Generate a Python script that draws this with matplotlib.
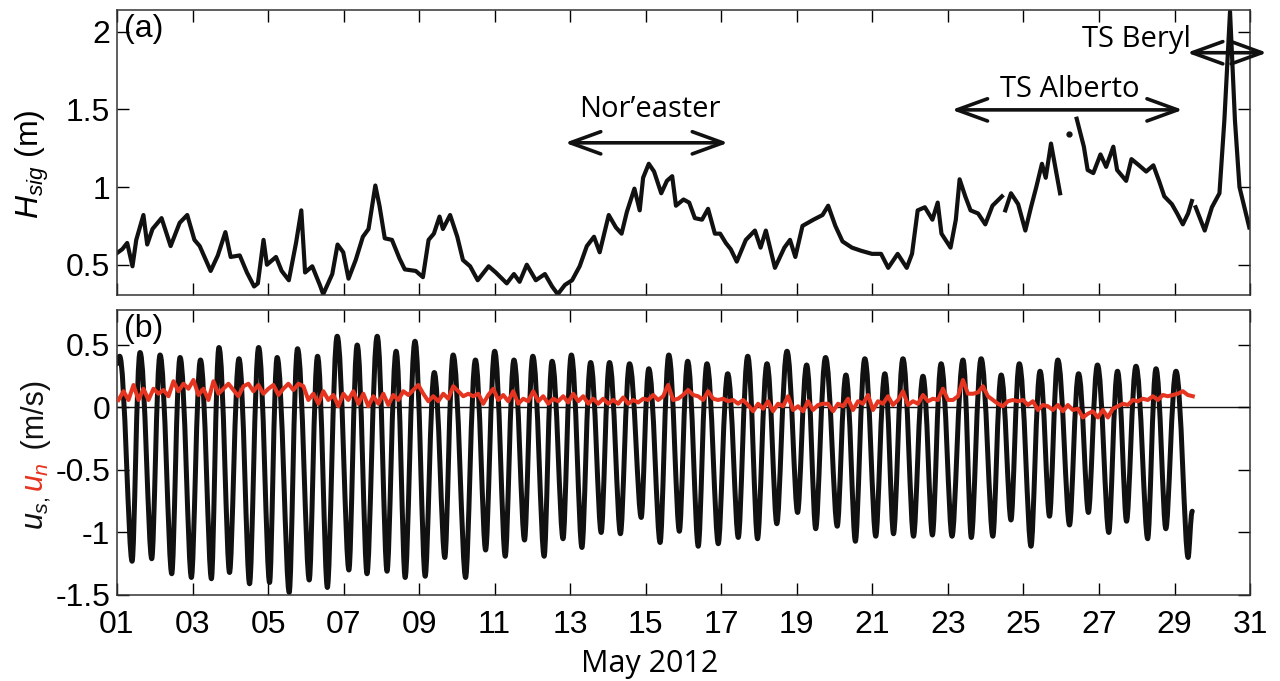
import matplotlib
matplotlib.use("Agg")
import matplotlib.pyplot as plt
from matplotlib.path import Path
from matplotlib.patches import PathPatch
import numpy as np

########
# Data #
########

# significant wave height; nan marks gaps in the record
hsig_day = [1.00, 1.14, 1.27, 1.41, 1.51, 1.70, 1.80, 1.94, 2.18, 2.42,
            2.66, 2.86, 3.05, 3.19, 3.48, 3.67, 3.87, 4.01, 4.25, 4.44,
            4.63, 4.73, 4.88, 4.97, 5.21, 5.36, 5.55, 5.74, 5.88, 5.98,
            6.17, 6.37, 6.46, 6.70, 6.84, 6.99, 7.13, 7.32, 7.51, 7.66,
            7.84, 7.95, 8.09, 8.28, 8.48, 8.62, 8.91, 9.10, 9.25, 9.39,
            9.54, 9.63, 9.82, 10.01, 10.16, 10.35, 10.55, 10.84, 11.03, 11.32,
            11.51, 11.66, 11.85, 12.09, 12.33, 12.52, 12.67, 12.86, 13.05, 13.25,
            13.44, 13.63, 13.78, 14.02, 14.21, 14.36, 14.50, 14.70, 14.84, 14.93,
            15.08, 15.22, 15.41, 15.56, 15.70, 15.80, 16.00, 16.15, 16.30, 16.49,
            16.65, 16.83, 16.97, 17.12, 17.25, 17.41, 17.65, 17.89, 18.04, 18.18,
            18.42, 18.67, 18.82, 18.96, 19.15, 19.44, 19.68, 19.83, 20.02, 20.21,
            20.46, 20.70, 20.99, 21.23, 21.42, 21.67, 21.91, 22.05, 22.20, 22.39,
            22.59, 22.73, 22.83, 23.07, 23.21, 23.31, 23.46, 23.60, 23.80, 23.99,
            24.18, 24.43, 24.47, 24.52, 24.67, 24.86, 25.05, 25.20, 25.34, 25.49,
            25.59, 25.73, 25.97, 26.10, 26.20, 26.30, 26.41, 26.60, 26.70, 26.85,
            27.04, 27.19, 27.38, 27.48, 27.72, 27.86, 28.06, 28.25, 28.44, 28.59,
            28.73, 28.93, 29.07, 29.22, 29.36, 29.46, 29.51, 29.56, 29.80, 29.99,
            30.19, 30.32, 30.47, 30.60, 30.72, 30.98]
hsig_m = [0.575, 0.60, 0.64, 0.49, 0.66, 0.82, 0.63, 0.73, 0.80, 0.62,
          0.77, 0.82, 0.66, 0.62, 0.46, 0.56, 0.71, 0.55, 0.56, 0.45,
          0.36, 0.38, 0.66, 0.50, 0.55, 0.46, 0.40, 0.64, 0.85, 0.45,
          0.49, 0.37, 0.31, 0.44, 0.63, 0.58, 0.41, 0.53, 0.68, 0.73,
          1.01, 0.88, 0.67, 0.66, 0.54, 0.47, 0.46, 0.42, 0.66, 0.70,
          0.81, 0.73, 0.82, 0.68, 0.53, 0.49, 0.40, 0.49, 0.45, 0.38,
          0.44, 0.39, 0.50, 0.40, 0.44, 0.36, 0.31, 0.37, 0.40, 0.49,
          0.62, 0.68, 0.58, 0.82, 0.74, 0.70, 0.84, 0.99, 0.85, 1.06,
          1.15, 1.10, 0.96, 1.04, 1.07, 0.88, 0.92, 0.90, 0.80, 0.79,
          0.86, 0.70, 0.70, 0.64, 0.60, 0.52, 0.66, 0.72, 0.61, 0.72,
          0.48, 0.61, 0.66, 0.55, 0.75, 0.79, 0.82, 0.88, 0.75, 0.65,
          0.61, 0.59, 0.57, 0.57, 0.48, 0.57, 0.48, 0.57, 0.85, 0.87,
          0.79, 0.90, 0.70, 0.61, 0.79, 1.05, 0.94, 0.85, 0.83, 0.76,
          0.88, 0.94, np.nan, 0.85, 0.96, 0.89, 0.72, 0.87, 1.00, 1.15,
          1.06, 1.28, 0.96, np.nan, 1.34, np.nan, 1.44, 1.26, 1.11, 1.09,
          1.21, 1.13, 1.26, 1.11, 1.04, 1.18, 1.14, 1.10, 1.14, 1.04,
          0.94, 0.89, 0.83, 0.76, 0.83, 0.91, np.nan, 0.87, 0.72, 0.87,
          0.96, 1.43, 2.13, 1.43, 1.00, 0.74]

# alongshore velocity: successive flood/ebb extremes
us_day = [1.00, 1.07, 1.40, 1.61, 1.92, 2.14, 2.45, 2.67, 2.97, 3.21,
          3.50, 3.70, 3.98, 4.23, 4.51, 4.75, 5.04, 5.24, 5.56, 5.78,
          6.09, 6.31, 6.57, 6.83, 7.14, 7.36, 7.62, 7.89, 8.15, 8.39,
          8.63, 8.89, 9.16, 9.40, 9.68, 9.90, 10.23, 10.49, 10.76, 11.00,
          11.28, 11.51, 11.79, 12.01, 12.31, 12.52, 12.81, 13.03, 13.31, 13.54,
          13.82, 14.04, 14.33, 14.57, 14.88, 15.08, 15.38, 15.61, 15.89, 16.11,
          16.39, 16.62, 16.92, 17.17, 17.45, 17.70, 17.96, 18.21, 18.47, 18.74,
          19.02, 19.26, 19.50, 19.76, 20.07, 20.30, 20.55, 20.80, 21.09, 21.33,
          21.56, 21.81, 22.09, 22.34, 22.59, 22.82, 23.11, 23.40, 23.62, 23.88,
          24.19, 24.41, 24.67, 24.89, 25.20, 25.44, 25.69, 25.91, 26.22, 26.46,
          26.72, 26.96, 27.26, 27.49, 27.73, 27.98, 28.29, 28.51, 28.77, 29.04,
          29.36, 29.47]
us_ms = [0.35, 0.41, -1.23, 0.44, -1.21, 0.42, -1.33, 0.40, -1.36, 0.38,
         -1.37, 0.48, -1.32, 0.39, -1.41, 0.48, -1.40, 0.40, -1.48, 0.47,
         -1.38, 0.41, -1.44, 0.57, -1.30, 0.50, -1.33, 0.57, -1.31, 0.45,
         -1.36, 0.53, -1.35, 0.28, -1.20, 0.42, -1.36, 0.38, -1.14, 0.45,
         -1.19, 0.38, -1.06, 0.41, -1.19, 0.37, -1.05, 0.42, -1.12, 0.36,
         -1.00, 0.36, -1.01, 0.35, -0.88, 0.31, -1.08, 0.42, -0.99, 0.37,
         -1.11, 0.35, -1.09, 0.27, -1.04, 0.41, -1.05, 0.35, -0.93, 0.45,
         -0.84, 0.34, -0.97, 0.40, -0.95, 0.26, -1.07, 0.39, -1.03, 0.27,
         -1.01, 0.39, -1.03, 0.25, -1.02, 0.35, -1.03, 0.38, -1.04, 0.39,
         -1.03, 0.26, -0.90, 0.35, -1.11, 0.29, -0.87, 0.38, -0.94, 0.27,
         -0.84, 0.34, -1.00, 0.29, -0.91, 0.33, -1.05, 0.31, -0.97, 0.29,
         -1.20, -0.83]

# cross-shore velocity, sampled every un_step days from un_start
un_start = 1.04
un_step = 0.1323
un_ms = [0.06, 0.13, 0.06, 0.18, 0.06, 0.15, 0.06, 0.15, 0.11, 0.14,
         0.09, 0.21, 0.13, 0.19, 0.15, 0.22, 0.10, 0.15, 0.06, 0.21,
         0.11, 0.15, 0.19, 0.14, 0.09, 0.17, 0.19, 0.13, 0.18, 0.11,
         0.15, 0.18, 0.10, 0.15, 0.19, 0.14, 0.19, 0.17, 0.06, 0.11,
         0.03, 0.13, 0.06, 0.10, 0.01, 0.11, 0.06, 0.13, 0.03, 0.11,
         0.01, 0.09, 0.03, 0.11, 0.02, 0.10, 0.06, 0.13, 0.10, 0.14,
         0.18, 0.11, 0.05, 0.09, 0.05, 0.11, 0.07, 0.17, 0.13, 0.09,
         0.11, 0.09,
         0.11, 0.03, 0.10, 0.15, 0.06, 0.10, 0.05, 0.13, 0.03, 0.07,
         0.05, 0.13, 0.05, 0.09, 0.03, 0.07, 0.05, 0.09, 0.04, 0.11,
         0.05, 0.09, 0.03, 0.07, 0.03, 0.07, 0.03, 0.06, 0.03, 0.08,
         0.03, 0.06, 0.04, 0.07, 0.06, 0.10, 0.06, 0.09, 0.18, 0.06,
         0.07, 0.10, 0.14, 0.10, 0.09, 0.06, 0.13, 0.07, 0.06, 0.07,
         0.05, 0.06, 0.03, 0.06, 0.02, -0.03, 0.03, -0.01, 0.05, -0.03,
         0.03, 0.01, 0.09, -0.02, 0.01, -0.03, 0.05, -0.02, 0.02, 0.03,
         0.03, -0.03, 0.03, 0.01, 0.07, -0.02, 0.05, 0.03, 0.10, -0.02,
         0.05, 0.03, 0.09, 0.02, 0.06, 0.13, 0.02, 0.05, 0.03, 0.10,
         0.05, 0.07, 0.06, 0.15, 0.06, 0.06, 0.09, 0.22, 0.11, 0.11,
         0.12, 0.17, 0.09, 0.06, 0.03, 0.01, 0.05, 0.06, 0.05, 0.06,
         0.02, 0.05, -0.02, 0.02, 0.01, -0.02, 0.02, -0.03, 0.02, -0.02,
         -0.01, -0.08, -0.05, -0.03, -0.08, -0.02, -0.08, -0.01, 0.01, 0.03,
         0.02, 0.06, 0.05, 0.07, 0.06, 0.09, 0.06, 0.10, 0.09, 0.10,
         0.11, 0.13, 0.10, 0.09]

x_ticks = [1, 3, 5, 7, 9, 11, 13, 15, 17, 19, 21, 23, 25, 27, 29, 31]
x_tick_labels = ["01", "03", "05", "07", "09", "11", "13", "15",
                 "17", "19", "21", "23", "25", "27", "29", "31"]

# storm periods: label, arrow start/end day, arrow height, label centre day, label baseline
events = [("Nor\u2019easter", 12.86, 17.18, 1.285, 15.11, 1.452),
          ("TS Alberto", 23.10, 29.22, 1.497, 26.23, 1.580),
          ("TS Beryl", 29.33, 31.45, 1.865, 27.98, 1.903)]

##########
# Figure #
##########

plt.rcParams['font.family'] = ['Liberation Sans', 'DejaVu Sans']
plt.rcParams['mathtext.fontset'] = 'custom'
plt.rcParams['mathtext.rm'] = 'Liberation Sans'
plt.rcParams['mathtext.it'] = 'Liberation Sans:italic'

RED = "#e5341f"
INK = "#111111"
LABEL_FONT = ['Open Sans', 'DejaVu Sans']

fig = plt.figure(figsize=(12.8, 6.81), dpi=100)
ax1 = fig.add_axes([0.0914, 0.5668, 0.8852, 0.4185])
ax2 = fig.add_axes([0.0914, 0.1263, 0.8852, 0.4185])

for ax in (ax1, ax2):
    ax.set_xlim(1, 31)
    ax.set_xticks(x_ticks)
    ax.tick_params(direction='in', length=8.5, width=1.0, top=True, right=True,
                   labelsize=23, pad=5)
    for sp in ax.spines.values():
        sp.set_linewidth(1.1)
        sp.set_color("#333333")

# panel (a)
hd = np.array(hsig_day)
hv = np.array(hsig_m)
ax1.plot(hd, hv, color=INK, lw=3.0, solid_joinstyle='round')
lone = np.isfinite(hv) & ~np.isfinite(np.roll(hv, 1)) & ~np.isfinite(np.roll(hv, -1))
ax1.plot(hd[lone], hv[lone], 'o', color=INK, ms=3.5)
ax1.set_ylim(0.305, 2.14)
ax1.set_yticks([0.5, 1, 1.5, 2])
ax1.set_yticklabels(["0.5", "1", "1.5", "2"])
ax1.set_xticklabels([])
ax1.set_ylabel(r'$H_{sig}$ (m)', fontsize=23)
ax1.yaxis.set_label_coords(-0.058, 0.46)
ax1.text(0.006, 0.985, "(a)", transform=ax1.transAxes, ha='left', va='top', fontsize=23)

for name, d0, d1, h, xc, yb in events:
    ax1.annotate("", xy=(d0, h), xytext=(d1, h),
                 arrowprops=dict(arrowstyle='<->,head_length=1.1,head_width=0.4',
                                 lw=2.6, color=INK, mutation_scale=20,
                                 shrinkA=0, shrinkB=0),
                 annotation_clip=False)
    ax1.text(xc, yb, name, ha='center', va='baseline', fontsize=21, family=LABEL_FONT)

# panel (b): extremes joined by smooth curves with flat tangents at each turn
verts = [(us_day[0], us_ms[0])]
codes = [Path.MOVETO]
for i in range(1, len(us_day)):
    t0, v0 = us_day[i - 1], us_ms[i - 1]
    t1, v1 = us_day[i], us_ms[i]
    dt = t1 - t0
    k0 = 0.40 if v0 > v1 else 0.28
    k1 = 0.40 if v1 > v0 else 0.28
    verts += [(t0 + k0 * dt, v0), (t1 - k1 * dt, v1), (t1, v1)]
    codes += [Path.CURVE4] * 3

ax2.axhline(0, color=INK, lw=1.0, zorder=1)
ax2.add_patch(PathPatch(Path(verts, codes), fill=False, ec=INK, lw=3.6,
                        joinstyle='round', capstyle='round', zorder=2))
un_day = un_start + un_step * np.arange(len(un_ms))
ax2.plot(un_day, un_ms, color=RED, lw=2.9, zorder=3)
ax2.set_ylim(-1.5, 0.78)
ax2.set_yticks([-1.5, -1, -0.5, 0, 0.5])
ax2.set_yticklabels(["-1.5", "-1", "-0.5", "0", "0.5"])
ax2.set_xticklabels(x_tick_labels)
ax2.tick_params(axis='x', pad=11)
ax2.set_xlabel("May 2012", fontsize=22, family=LABEL_FONT)
ax2.xaxis.set_label_coords(0.47, -0.19)
ax2.text(0.006, 0.985, "(b)", transform=ax2.transAxes, ha='left', va='top', fontsize=23)

# two-colour y label for panel (b), built bottom to top
fig.canvas.draw()
renderer = fig.canvas.get_renderer()
y = 0.222
for txt, col in [(r'$u_{s,}$', INK), (r'$u_{n}$', RED), (" (m/s)", INK)]:
    t = fig.text(0.034, y, txt, rotation=90, rotation_mode='anchor',
                 ha='left', va='baseline', fontsize=22, color=col)
    y += t.get_window_extent(renderer).height / fig.bbox.height + 0.006

fig.savefig("out.png", dpi=100)
